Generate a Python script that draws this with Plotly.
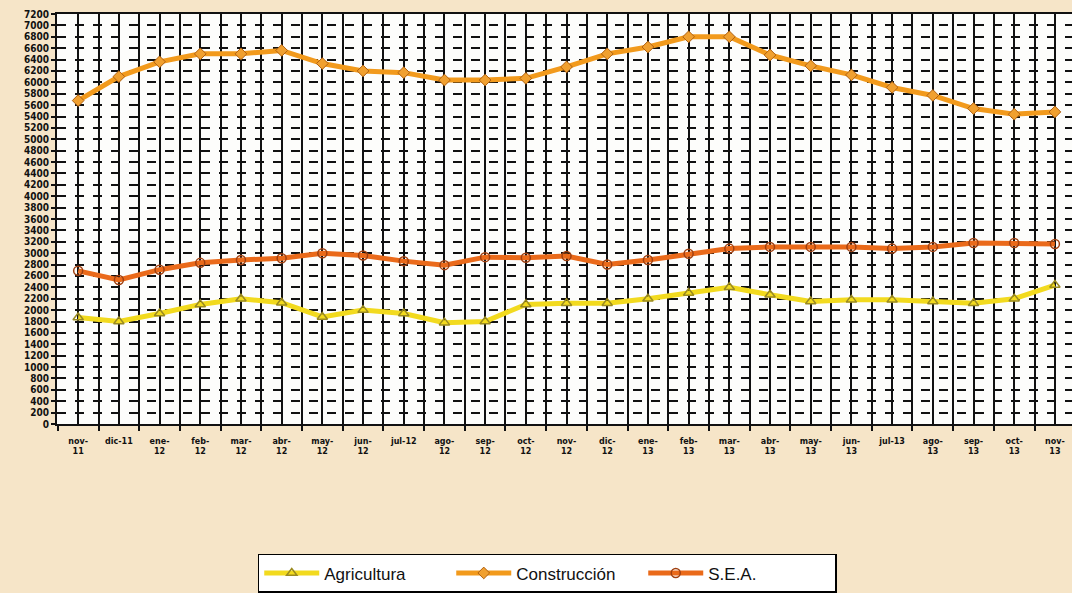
import plotly.graph_objects as go

categories = ["nov-<br>11", "dic-11", "ene-<br>12", "feb-<br>12", "mar-<br>12", "abr-<br>12",
              "may-<br>12", "jun-<br>12", "jul-12", "ago-<br>12", "sep-<br>12", "oct-<br>12",
              "nov-<br>12", "dic-<br>12", "ene-<br>13", "feb-<br>13", "mar-<br>13", "abr-<br>13",
              "may-<br>13", "jun-<br>13", "jul-13", "ago-<br>13", "sep-<br>13", "oct-<br>13",
              "nov-<br>13"]

agricultura = [1870, 1800, 1940, 2100, 2200, 2130, 1880, 2000, 1940, 1780, 1800, 2100,
               2120, 2120, 2200, 2300, 2400, 2270, 2150, 2180, 2180, 2150, 2120, 2200, 2440]

construccion = [5680, 6100, 6360, 6500, 6500, 6560, 6330, 6200, 6170, 6040, 6040, 6070,
                6270, 6500, 6620, 6800, 6800, 6480, 6290, 6130, 5910, 5770, 5540, 5440, 5480]

sea = [2690, 2530, 2710, 2830, 2880, 2910, 3000, 2960, 2860, 2790, 2930, 2920,
       2950, 2800, 2880, 2990, 3080, 3110, 3110, 3110, 3080, 3110, 3180, 3180, 3160]

y_ticks = list(range(0, 7201, 200))

x = list(range(len(categories)))

fig = go.Figure()
fig.add_trace(go.Scatter(
    x=x, y=agricultura, name="Agricultura", mode="lines+markers",
    line=dict(color="#F2DA1E", width=5),
    marker=dict(symbol="triangle-up-open", size=9, color="#9A8A20", line=dict(width=1.5)),
))
fig.add_trace(go.Scatter(
    x=x, y=construccion, name="Construcción", mode="lines+markers",
    line=dict(color="#F29A1C", width=5),
    marker=dict(symbol="diamond", size=9, color="#F0A030", line=dict(color="#B06010", width=1)),
))
fig.add_trace(go.Scatter(
    x=x, y=sea, name="S.E.A.", mode="lines+markers",
    line=dict(color="#EA6A1A", width=5),
    marker=dict(symbol="circle-open", size=9, color="#A04010", line=dict(width=1.5)),
))

fig.update_layout(
    width=1072, height=593,
    margin=dict(l=57, r=0, t=14, b=169, autoexpand=False),
    paper_bgcolor="#F6E5C8",
    plot_bgcolor="#FDFDFB",
    showlegend=True,
    legend=dict(
        orientation="h", x=0.483, xanchor="center", y=-0.412, yanchor="bottom",
        bgcolor="#FFFFFF", bordercolor="#000000", borderwidth=1.5,
        font=dict(family="Liberation Sans, Arial", size=17, color="#111111"),
        itemwidth=55, tracegroupgap=0, entrywidth=122, entrywidthmode="pixels",
    ),
    xaxis=dict(
        range=[-0.52, 24.42],
        tickmode="array", tickvals=x, ticktext=categories,
        tickfont=dict(family="DejaVu Sans", size=8, color="#111111", weight="bold"),
        ticklabelstandoff=8,
        showgrid=True, gridcolor="#111111", gridwidth=2,
        showline=True, linecolor="#111111", linewidth=2, mirror=True,
        ticks="", zeroline=False,
        minor=dict(tickmode="array", tickvals=[i + 0.5 for i in range(-1, 25)],
                   showgrid=True, gridcolor="#111111", gridwidth=2,
                   ticks="outside", ticklen=5, tickcolor="#111111", tickwidth=2),
    ),
    yaxis=dict(
        range=[0, 7200],
        tickmode="array", tickvals=y_ticks, ticktext=[str(v) for v in y_ticks],
        tickfont=dict(family="DejaVu Sans Condensed, DejaVu Sans", size=10, color="#111111", weight="bold"),
        showgrid=True, gridcolor="#111111", gridwidth=1.5, griddash="dash",
        showline=True, linecolor="#111111", linewidth=2,
        ticks="outside", ticklen=4, tickcolor="#111111", tickwidth=1.5,
        zeroline=False,
    ),
)

fig.write_html("out.html", config={"displayModeBar": False},
               post_script="document.body.style.margin='0';document.body.style.overflow='hidden';")
